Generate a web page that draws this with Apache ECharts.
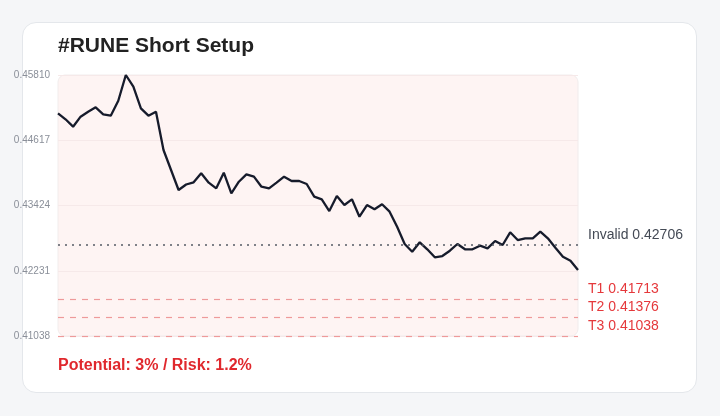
<!DOCTYPE html>
<html>
<head>
<meta charset="utf-8">
<script src="https://cdn.jsdelivr.net/npm/echarts@6/dist/echarts.min.js"></script>
<style>
html,body{margin:0;padding:0;background:#f5f6f8;width:720px;height:416px;overflow:hidden;}
#card{position:absolute;left:22px;top:22px;width:673px;height:369px;background:#fff;border:1px solid #e4e7eb;border-radius:14px;}
#chart{position:absolute;left:0;top:0;width:720px;height:416px;}
</style>
</head>
<body>
<div id="card"></div>
<div id="chart"></div>
<script>
const titleText = '#RUNE Short Setup';
const footerText = 'Potential: 3% / Risk: 1.2%';
const prices = [
  0.45110, 0.45000, 0.44865, 0.45048, 0.45139, 0.45219, 0.45091, 0.45066, 0.45340, 0.45810,
  0.45596, 0.45201, 0.45066, 0.45139, 0.44439, 0.44073, 0.43707, 0.43808, 0.43848, 0.44013,
  0.43841, 0.43738, 0.44024, 0.43647, 0.43859, 0.43994, 0.43951, 0.43768, 0.43738, 0.43841,
  0.43951, 0.43872, 0.43872, 0.43817, 0.43585, 0.43537, 0.43323, 0.43598, 0.43433, 0.43537,
  0.43219, 0.43433, 0.43354, 0.43446, 0.43311, 0.43036, 0.42720, 0.42579, 0.42751, 0.42623,
  0.42477, 0.42500, 0.42597, 0.42720, 0.42623, 0.42623, 0.42689, 0.42641, 0.42775, 0.42702,
  0.42934, 0.42793, 0.42824, 0.42824, 0.42945, 0.42824, 0.42652, 0.42488, 0.42415, 0.42245
];
const categories = prices.map((_, i) => String(i));
const yMin = 0.41038;
const yMax = 0.45810;
const yInterval = 0.01193;
const invalidLevel = 0.42706;
const targetNames = ['T1', 'T2', 'T3'];
const targetLevels = [0.41713, 0.41376, 0.41038];

const chart = echarts.init(document.getElementById('chart'), null, {renderer: 'canvas'});
const FONT = '"Liberation Sans", Arial, Helvetica, sans-serif';

const markData = [
  {
    yAxis: invalidLevel,
    lineStyle: {color: '#555b66', type: [2, 5], width: 1.5},
    label: {formatter: 'Invalid ' + invalidLevel.toFixed(5) + '\n ', color: '#444a55'}
  }
].concat(targetLevels.map((v, i) => ({
  yAxis: v,
  lineStyle: {color: '#ee9a9a', type: [6, 6], width: 1.2},
  label: {formatter: targetNames[i] + ' ' + v.toFixed(5) + '\n ', color: '#e5383b'}
})));

chart.setOption({
  animation: false,
  title: [
    {text: titleText, left: 58, top: 36, padding: 0,
     textStyle: {fontFamily: FONT, fontSize: 21, fontWeight: 'bold', color: '#222'}},
    {text: footerText, left: 58, top: 358, padding: 0,
     textStyle: {fontFamily: FONT, fontSize: 16, fontWeight: 'bold', color: '#e0282d'}}
  ],
  graphic: [{
    type: 'rect', z: -10, silent: true,
    shape: {x: 58, y: 75, width: 520, height: 261, r: 7},
    style: {fill: '#fef4f3', stroke: '#f1ecec', lineWidth: 1}
  }],
  grid: {left: 58, right: 142, top: 75, bottom: 80},
  xAxis: {
    type: 'category', data: categories, boundaryGap: false,
    axisLine: {show: false}, axisTick: {show: false}, axisLabel: {show: false}, splitLine: {show: false}
  },
  yAxis: {
    type: 'value', min: yMin, max: yMax, interval: yInterval,
    axisLine: {show: false}, axisTick: {show: false},
    axisLabel: {fontFamily: FONT, fontSize: 10, color: '#8a8f99', margin: 8,
      formatter: v => v.toFixed(5)},
    splitLine: {lineStyle: {color: '#f6e9e9', width: 1}}
  },
  series: [{
    type: 'line', data: prices, showSymbol: false, symbol: 'none',
    lineStyle: {color: '#161b2b', width: 2.3}, itemStyle: {color: '#161b2b'},
    markLine: {
      silent: true, symbol: 'none', animation: false, precision: 5,
      label: {show: true, position: 'end', distance: 10, lineHeight: 20,
        fontFamily: FONT, fontSize: 14},
      data: markData
    }
  }]
});
</script>
</body>
</html>
